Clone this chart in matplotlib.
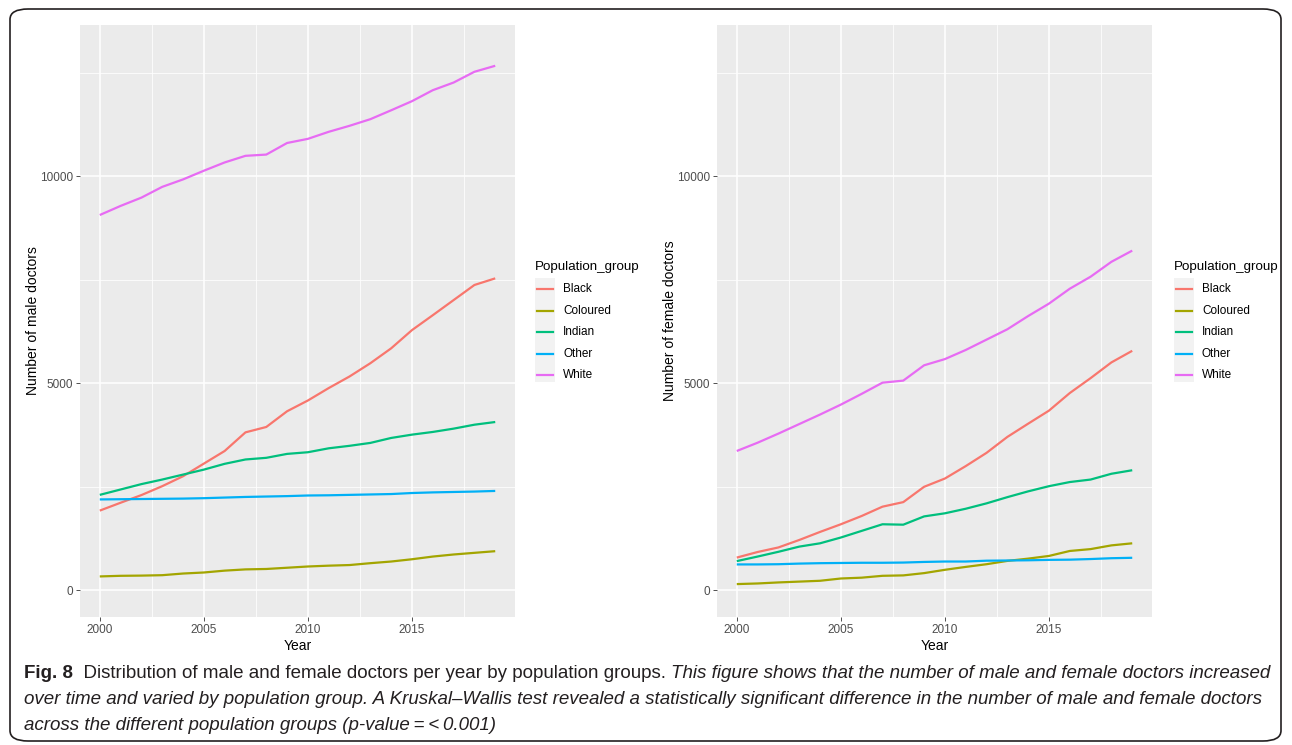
import matplotlib
matplotlib.use("Agg")
import matplotlib.pyplot as plt
from matplotlib.patches import FancyBboxPatch, Rectangle
from matplotlib.lines import Line2D
from matplotlib.ticker import MultipleLocator
from matplotlib import font_manager

# --- data: doctors per year by population group ---
years = list(range(2000, 2020))
groups = ["Black", "Coloured", "Indian", "Other", "White"]
colours = ["#F8766D", "#A3A500", "#00BF7D", "#00B0F6", "#E76BF3"]

male_black = [1920, 2110, 2295, 2510, 2750, 3055, 3360, 3810, 3940, 4320,
              4580, 4880, 5160, 5480, 5840, 6280, 6640, 7005, 7370, 7530]
male_coloured = [330, 345, 350, 360, 400, 425, 470, 500, 510, 540,
                 570, 590, 605, 650, 690, 745, 810, 860, 900, 940]
male_indian = [2300, 2430, 2560, 2670, 2790, 2910, 3050, 3155, 3195, 3290,
               3330, 3425, 3485, 3555, 3675, 3755, 3820, 3900, 3995, 4060]
male_other = [2190, 2195, 2200, 2205, 2210, 2220, 2235, 2250, 2260, 2270,
              2285, 2290, 2300, 2310, 2320, 2345, 2360, 2370, 2380, 2395]
male_white = [9060, 9280, 9480, 9740, 9920, 10130, 10330, 10490, 10520, 10800,
              10900, 11070, 11215, 11375, 11590, 11810, 12075, 12260, 12520, 12665]

female_black = [785, 920, 1030, 1210, 1405, 1590, 1790, 2015, 2125, 2495,
                2695, 2995, 3315, 3700, 4020, 4335, 4760, 5120, 5500, 5780]
female_coloured = [145, 160, 185, 205, 225, 280, 300, 345, 355, 410,
                   490, 560, 625, 705, 760, 825, 945, 990, 1080, 1130]
female_indian = [700, 810, 925, 1050, 1130, 1270, 1430, 1590, 1580, 1780,
                 1855, 1965, 2095, 2245, 2385, 2510, 2610, 2670, 2810, 2895]
female_other = [620, 620, 625, 640, 650, 655, 660, 660, 665, 680,
                690, 690, 710, 715, 720, 730, 735, 750, 770, 780]
female_white = [3360, 3560, 3780, 4010, 4240, 4480, 4740, 5010, 5060, 5430,
                5580, 5800, 6050, 6300, 6620, 6920, 7280, 7570, 7930, 8200]

male = [male_black, male_coloured, male_indian, male_other, male_white]
female = [female_black, female_coloured, female_indian, female_other, female_white]

W, H = 1292, 745
fig = plt.figure(figsize=(W / 100, H / 100), dpi=100)


def px(x, y):
    # pixel position (from top-left) -> figure fraction
    return x / W, 1 - y / H


def pick_font(names):
    for n in names:
        try:
            font_manager.findfont(n, fallback_to_default=False)
            return n
        except ValueError:
            pass
    return "DejaVu Sans"


plot_font = pick_font(["Liberation Sans", "Arial"])
caption_font = pick_font(["Liberation Sans Narrow", "Liberation Sans"])
plt.rcParams["font.family"] = plot_font


def gg_axes(left_px, data, ylabel):
    x0, y1 = px(left_px, 25)
    _, y0 = px(left_px, 617)
    ax = fig.add_axes([x0, y0, 435 / W, y1 - y0])
    ax.set_facecolor("#EBEBEB")
    for s in ax.spines.values():
        s.set_visible(False)
    for vals, c in zip(data, colours):
        ax.plot(years, vals, color=c, lw=1.6, solid_capstyle="butt")
    ax.set_xlim(1999.05, 2019.95)
    ax.set_ylim(-650, 13650)
    ax.xaxis.set_major_locator(MultipleLocator(5))
    ax.xaxis.set_minor_locator(MultipleLocator(2.5))
    ax.set_yticks([0, 5000, 10000])
    ax.set_yticks([2500, 7500, 12500], minor=True)
    ax.grid(which="major", color="white", lw=1.1)
    ax.grid(which="minor", color="white", lw=0.55)
    ax.set_axisbelow(True)
    ax.tick_params(which="major", length=3, width=0.6, color="#333333",
                   labelcolor="#4D4D4D", labelsize=8.5, pad=2)
    ax.tick_params(which="minor", length=0)
    ax.set_xlabel("Year", fontsize=10, color="black", labelpad=2)
    ax.set_ylabel(ylabel, fontsize=10, color="black", labelpad=0)
    return ax


gg_axes(80, male, "Number of male doctors")
gg_axes(717, female, "Number of female doctors")


def legend(x0):
    fig.text(*px(x0, 267), "Population_group", fontsize=9.6, va="center", ha="left")
    fig.add_artist(Rectangle(px(x0, 382), 20 / W, 104 / H,
                             transform=fig.transFigure, facecolor="#F2F2F2",
                             edgecolor="none"))
    for i, (g, c) in enumerate(zip(groups, colours)):
        yc = 289 + 21.6 * i
        xa, ya = px(x0 + 2, yc)
        xb, _ = px(x0 + 18, yc)
        fig.add_artist(Line2D([xa, xb], [ya, ya], transform=fig.transFigure,
                              color=c, lw=1.6))
        fig.text(*px(x0 + 28, yc), g, fontsize=8.5, va="center", ha="left")


legend(535)
legend(1174)

# rounded frame around the figure and its caption
fig.add_artist(FancyBboxPatch(px(10, 741), (W - 21) / W, 732 / H,
                              boxstyle="round,pad=0,rounding_size=0.014",
                              transform=fig.transFigure, facecolor="none",
                              edgecolor="#231F20", lw=1.2))

# caption, written as runs of differently styled text
caption = [
    [("Fig. 8", "bold", "normal"),
     ("  Distribution of male and female doctors per year by population groups. ", "normal", "normal"),
     ("This figure shows that the number of male and female doctors increased", "normal", "italic")],
    [("over time and varied by population group. A Kruskal\u2013Wallis test revealed a statistically "
      "significant difference in the number of male and female doctors", "normal", "italic")],
    [("across the different population groups (p-value\u2009=\u2009<\u20090.001)", "normal", "italic")],
]
line_y = [674, 700, 725]


def draw_runs(runs, x, y, size):
    renderer = fig.canvas.get_renderer()
    texts = []
    for s, weight, style in runs:
        t = fig.text(*px(x, y), s, fontsize=size, fontweight=weight, fontstyle=style,
                     family=[caption_font, "DejaVu Sans"], color="#231F20",
                     va="center", ha="left")
        x += t.get_window_extent(renderer).width
        texts.append(t)
    return texts, x


# size the caption so the first line spans the frame
probe, end = draw_runs(caption[0], 24, line_y[0], 12)
for t in probe:
    t.remove()
size = 12 * (1275 - 24) / (end - 24)
for runs, y in zip(caption, line_y):
    draw_runs(runs, 24, y, size)

fig.savefig("out.png", dpi=100)
